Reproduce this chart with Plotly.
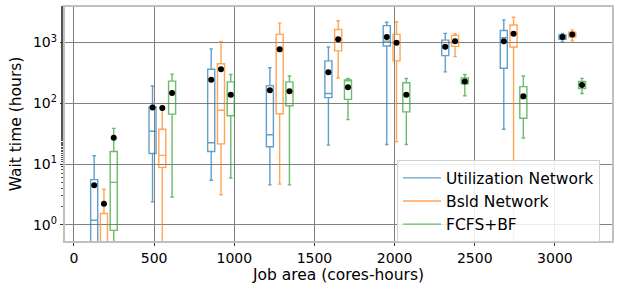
import plotly.graph_objects as go

# Job-area bins (x positions of each group, cores-hours)
job_area = [187, 551, 917, 1283, 1648, 2012, 2377, 2742, 3108]
series_names = ["Utilization Network", "Bsld Network", "FCFS+BF"]

# Utilization Network
util_upper = [13.7, 192, 785, 385, 845, 2159, 1413, 2360, 1413]
util_q3 = [5.55, 86.9, 363, 195, 498, 1892, 1092, 1574, 1327]
util_median = [1.19, 34.7, 22.4, 30.3, 145, 1052, 853, 1202, 1233]
util_q1 = [0.3, 14.9, 16.1, 19.3, 124, 877, 607, 377, 1132]
util_lower = [0.1, 2.39, 5.41, 4.55, 20.5, 21.0, 329, 37.4, 1025]
util_mean = [4.5, 85, 243, 164, 325, 1233, 853, 1052, 1233]

# Bsld Network
bsld_upper = [3.84, 78.7, 1038, 2080, 2275, 2191, 1391, 2597, 1610]
bsld_q3 = [1.54, 37.4, 446, 1360, 1634, 1360, 1312, 1937, 1480]
bsld_median = [0.4, 13.9, 76.7, 711, 1132, 988, 1052, 1391, 1360]
bsld_q1 = [0.2, 8.81, 21.5, 67.2, 729, 498, 863, 845, 1233]
bsld_lower = [0.05, 0.1, 3.12, 4.67, 261, 23.4, 585, 0.1, 1064]
bsld_mean = [2.22, 83.7, 363, 773, 1132, 988, 1052, 1391, 1360]

# FCFS+BF
fcfs_upper = [38.7, 302, 298, 281, 255, 255, 298, 281, 257]
fcfs_q3 = [16.1, 231, 225, 225, 243, 217, 261, 188, 228]
fcfs_median = [5.0, 147, 133, 158, 240, 138, 228, 120, 199]
fcfs_q1 = [0.81, 66.2, 62.4, 91.1, 116, 72.3, 209, 56.6, 174]
fcfs_lower = [0.1, 2.87, 5.88, 4.55, 53.9, 21.0, 133, 26.9, 145]
fcfs_mean = [27.2, 147, 138, 158, 183, 138, 228, 130, 199]

ytick_vals = [1, 10, 100, 1000]
ytick_text = ["10<sup>0</sup>", "10<sup>1</sup>", "10<sup>2</sup>", "10<sup>3</sup>"]
xtick_vals = [0, 500, 1000, 1500, 2000, 2500, 3000]

colors = ["rgba(31,119,180,0.7)", "rgba(255,127,14,0.7)", "rgba(44,160,44,0.7)"]
dodge = 61
box_width = 44

series = [
    (util_q1, util_median, util_q3, util_lower, util_upper, util_mean),
    (bsld_q1, bsld_median, bsld_q3, bsld_lower, bsld_upper, bsld_mean),
    (fcfs_q1, fcfs_median, fcfs_q3, fcfs_lower, fcfs_upper, fcfs_mean),
]

fig = go.Figure()
for i, (q1, med, q3, lo, up, mean) in enumerate(series):
    xs = [a + (i - 1) * dodge for a in job_area]
    fig.add_trace(go.Box(
        x=xs, q1=q1, median=med, q3=q3, lowerfence=lo, upperfence=up,
        width=box_width, whiskerwidth=0.5, boxpoints=False,
        line=dict(color=colors[i], width=1.4),
        fillcolor="rgba(0,0,0,0)", showlegend=False, name=series_names[i],
    ))
for i, (q1, med, q3, lo, up, mean) in enumerate(series):
    xs = [a + (i - 1) * dodge for a in job_area]
    fig.add_trace(go.Scatter(
        x=xs, y=mean, mode="markers",
        marker=dict(color="black", size=6), showlegend=False,
    ))
for i in range(3):
    fig.add_trace(go.Scatter(
        x=[None], y=[None], mode="lines", name=series_names[i],
        line=dict(color=colors[i], width=1.4),
    ))

fig.update_layout(
    width=619, height=286,
    margin=dict(l=65, r=7, t=5, b=40),
    plot_bgcolor="white", paper_bgcolor="white",
    boxmode="overlay",
    font=dict(family="DejaVu Sans", size=14, color="black"),
    legend=dict(
        x=0.607, y=0.345, xanchor="left", yanchor="top",
        bgcolor="rgba(255,255,255,0.85)", bordercolor="#d0d0d0", borderwidth=1,
        font=dict(size=15.5), itemwidth=38,
    ),
)
fig.update_xaxes(
    range=[-56, 3356], tickvals=xtick_vals,
    showgrid=True, gridcolor="#808080", gridwidth=1,
    ticks="outside", ticklen=3.5, tickcolor="#333",
    showline=True, linecolor="#c0c0c0", linewidth=1.5, mirror=True,
    zeroline=False,
    title=dict(text="Job area (cores-hours)", font=dict(size=15.5), standoff=4),
)
fig.update_yaxes(
    type="log", range=[-0.266, 3.584],
    tickvals=ytick_vals, ticktext=ytick_text,
    showgrid=True, gridcolor="#808080", gridwidth=1,
    ticks="outside", ticklen=3.5, tickcolor="#333",
    minor=dict(ticks="outside", ticklen=2, tickcolor="#555", showgrid=False),
    showline=True, linecolor="#c0c0c0", linewidth=1.5, mirror=True,
    zeroline=False,
    title=dict(text="Wait time (hours)", font=dict(size=15.5), standoff=7),
)

fig.write_html(
    "out.html",
    config={"displayModeBar": False},
    post_script="document.body.style.margin='0';document.body.style.overflow='hidden';",
)
